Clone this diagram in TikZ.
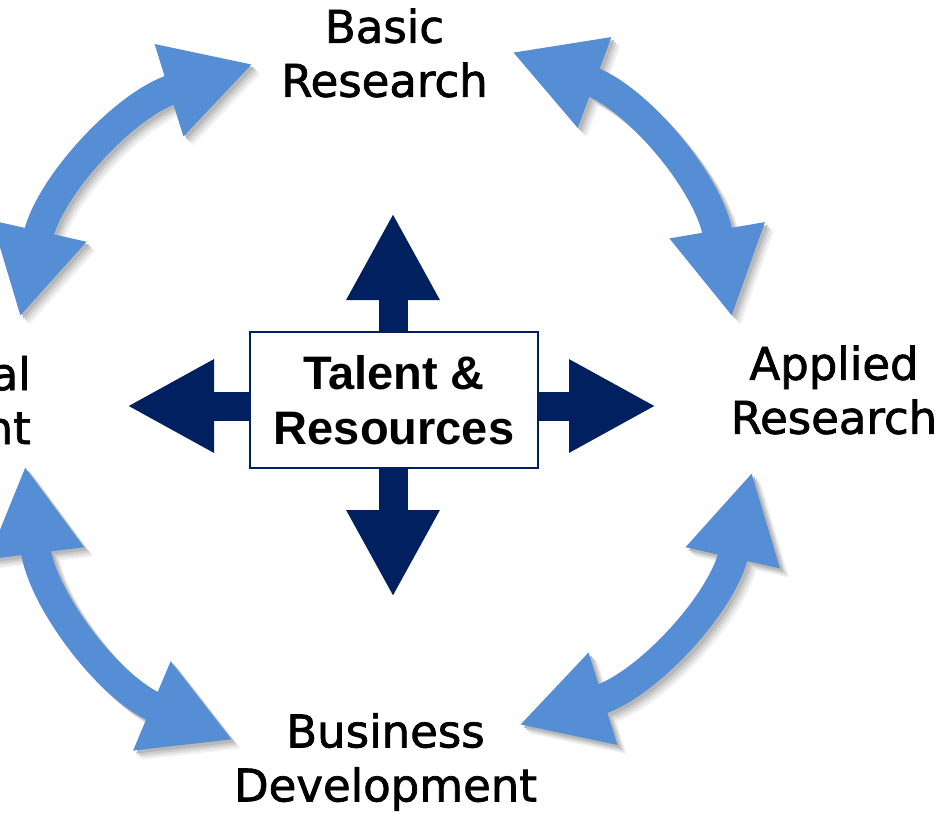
\documentclass[tikz,border=0pt]{standalone}
\usepackage{fontspec}
\setmainfont{DejaVu Sans}[FakeBold=1.6]
\newfontfamily\arialfont{Liberation Sans}
\usetikzlibrary{arrows.meta}
\definecolor{cycleblue}{RGB}{85,142,213}
\definecolor{hubnavy}{RGB}{0,32,96}
\tikzset{
	cyclearrow/.style={line width=30pt, cycleblue, {Triangle[length=88pt,width=90pt]}-{Triangle[length=88pt,width=90pt]}},
	hubarrow/.style={line width=29pt, hubnavy, -{Triangle[length=87pt,width=87pt]}},
	stage/.style={font=\fontsize{45}{54}\selectfont, align=center, inner sep=0pt},
}

\begin{document}
\begin{tikzpicture}[x=1pt,y=-1pt]
		\useasboundingbox (0,0) rectangle (940,813);
		\coordinate (tl1) at (20,317); \coordinate (tl2) at (253,64);
		\coordinate (tr1) at (512,52); \coordinate (tr2) at (732,317);
		\coordinate (br1) at (752,472); \coordinate (br2) at (519,725);
		\coordinate (bl1) at (233,740); \coordinate (bl2) at (25,466);
		% curved arrows with a soft shadow
		\foreach \a / \b in {tl1/tl2,tr1/tr2,br1/br2,bl1/bl2} {
			\foreach \s / \c in {9/6,7/12,5/20,3/28} { \draw[cyclearrow, black!\c, transform canvas={xshift=\s pt,yshift=-\s pt}] (\a) to[bend left=30] (\b);}
			\draw[cyclearrow] (\a) to[bend left=30] (\b);
		}
		% stages
		\node[stage] (basic) at (384.5,53) {Basic\\Research};
		\node[stage] (applied) at (834,390) {Applied\\Research};
		\node[stage] (business) at (385.5,762) {Business\\Development};
		\node[stage, align=right, anchor=east] (societal) at (31,400) {al\\nt};
		% hub
		\node[draw=hubnavy, line width=1.5pt, fill=white, minimum width=288pt, minimum height=136pt, align=center,
			font=\arialfont\bfseries\fontsize{47}{55}\selectfont] (hub) at (394,400) {Talent \&\\Resources};
		\coordinate (up) at (393,213); \coordinate (down) at (393,597);
		\coordinate (left) at (127,406); \coordinate (right) at (656,406);
		\draw[hubarrow] (hub.north -| up) -- (up);
		\draw[hubarrow] (hub.south -| down) -- (down);
		\draw[hubarrow] (hub.west |- left) -- (left);
		\draw[hubarrow] (hub.east |- right) -- (right);
	\end{tikzpicture}
\end{document}
